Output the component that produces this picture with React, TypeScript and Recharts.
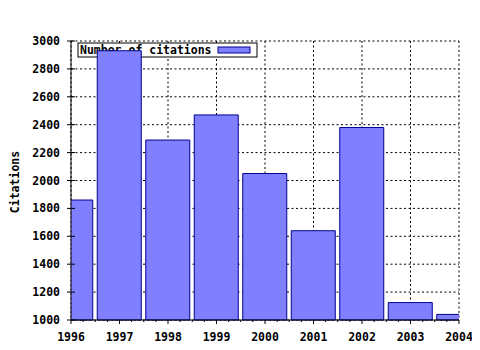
import React from "react";
import {
  BarChart,
  Bar,
  XAxis,
  YAxis,
  CartesianGrid,
} from "recharts";

const years = [1996, 1997, 1998, 1999, 2000, 2001, 2002, 2003, 2004];
const citations = [1860, 2930, 2290, 2470, 2050, 1640, 2380, 1125, 1040];
const yTicks = [1000, 1200, 1400, 1600, 1800, 2000, 2200, 2400, 2600, 2800, 3000];

const seriesName = "Number of citations";
const yTitle = "Citations";

const data = years.map((year, i) => ({ year, citations: citations[i] }));

const W = 464;
const H = 342;
const LEFT = 63;
const RIGHT = 13;
const TOP = 33;
const BOTTOM = 30;
const STEP = (W - LEFT - RIGHT) / (years.length - 1);

const font = {
  fontFamily: "'DejaVu Sans Mono', monospace",
  fontWeight: "bold" as const,
  fontSize: 11.5,
  fill: "#000",
};

function BottomTick(props: any) {
  const { x, y, payload, index } = props;
  const last = index === years.length - 1;
  return (
    <g>
      <line x1={x} y1={y} x2={x} y2={y + 4} stroke="#000" />
      {!last &&
        [1, 2, 3].map((k) => (
          <line
            key={k}
            x1={x + (STEP * k) / 4}
            y1={y}
            x2={x + (STEP * k) / 4}
            y2={y + 2}
            stroke="#000"
          />
        ))}
      <text x={x} y={y + 21} textAnchor="middle" style={font}>
        {payload.value}
      </text>
    </g>
  );
}

function TopTick(props: any) {
  const { x, y, index } = props;
  const last = index === years.length - 1;
  return (
    <g>
      <line x1={x} y1={y - 4} x2={x} y2={y} stroke="#000" />
      {!last &&
        [1, 2, 3].map((k) => (
          <line
            key={k}
            x1={x + (STEP * k) / 4}
            y1={y}
            x2={x + (STEP * k) / 4}
            y2={y + 2}
            stroke="#000"
          />
        ))}
    </g>
  );
}

function LeftTick(props: any) {
  const { x, y, payload } = props;
  return (
    <g>
      <line x1={x - 4} y1={y} x2={x + 4} y2={y} stroke="#000" />
      <text x={x - 11} y={y + 4} textAnchor="end" style={font}>
        {payload.value}
      </text>
    </g>
  );
}

export default function App() {
  return (
    <BarChart
      width={W}
      height={H}
      data={data}
      margin={{ top: TOP, right: RIGHT, bottom: 0, left: 0 }}
    >
      <CartesianGrid stroke="#000" strokeDasharray="2 2.5" />
      <g>
        <rect x={70} y={35} width={179} height={14} fill="#fff" stroke="#000" />
        <text x={72} y={46} style={font}>
          {seriesName}
        </text>
        <rect x={210} y={39} width={32} height={6} fill="#8080ff" stroke="#000090" />
      </g>
      <XAxis
        dataKey="year"
        type="number"
        domain={[years[0], years[years.length - 1]]}
        ticks={years}
        allowDataOverflow
        height={BOTTOM}
        tickSize={0}
        tickMargin={0}
        tickLine={false}
        stroke="#000"
        tick={<BottomTick />}
        interval={0}
      />
      <XAxis
        xAxisId="top"
        orientation="top"
        dataKey="year"
        type="number"
        domain={[years[0], years[years.length - 1]]}
        ticks={years}
        height={0}
        tickSize={0}
        tickMargin={0}
        tickLine={false}
        stroke="#000"
        tick={<TopTick />}
        interval={0}
      />
      <YAxis
        domain={[yTicks[0], yTicks[yTicks.length - 1]]}
        ticks={yTicks}
        width={LEFT}
        tickSize={0}
        tickMargin={0}
        tickLine={false}
        stroke="#000"
        tick={<LeftTick />}
        interval={0}
      />
      <YAxis
        yAxisId="right"
        orientation="right"
        domain={[yTicks[0], yTicks[yTicks.length - 1]]}
        width={0}
        tick={false}
        tickLine={false}
        stroke="#000"
      />
      <Bar
        dataKey="citations"
        barSize={44}
        fill="#8080ff"
        stroke="#000090"
        isAnimationActive={false}
      />
      <text
        x={11}
        y={174}
        textAnchor="middle"
        transform="rotate(-90, 11, 174)"
        style={font}
      >
        {yTitle}
      </text>
    </BarChart>
  );
}
